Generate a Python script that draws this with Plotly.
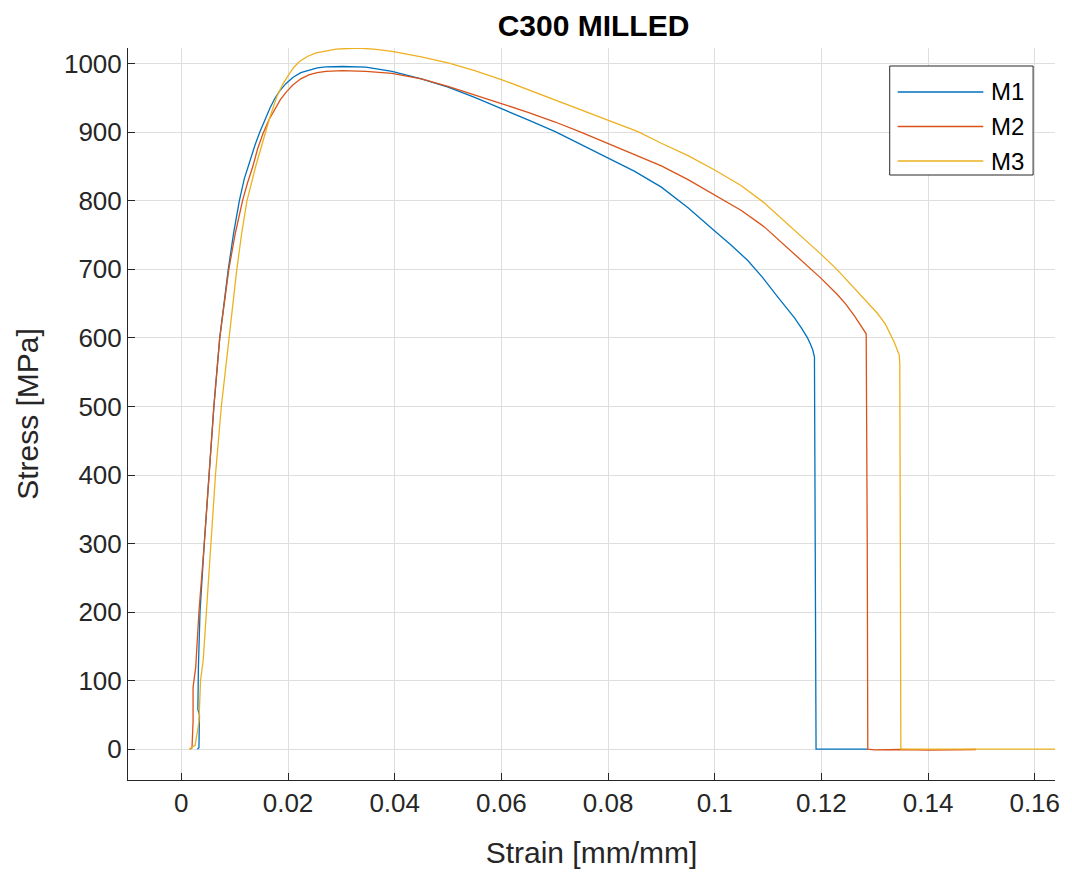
import plotly.graph_objects as go

# Tensile test curves, C300 milled specimens
series_names = ["M1", "M2", "M3"]
series_colors = ["#0072BD", "#D95319", "#EDB120"]

m1_strain = [0.0030, 0.0033, 0.0034, 0.0031, 0.0032, 0.0035, 0.0043, 0.0052, 0.0061, 0.0072,
             0.0080, 0.0088, 0.0098, 0.0109, 0.0118, 0.0128, 0.0138, 0.0147, 0.0156, 0.0166,
             0.0175, 0.0184, 0.0196, 0.0209, 0.0224, 0.0240, 0.0255, 0.0271, 0.0302, 0.0346,
             0.0395, 0.0450, 0.0500, 0.0550, 0.0600, 0.0650, 0.0701, 0.0750, 0.0800, 0.0850,
             0.0900, 0.0950, 0.1000, 0.1030, 0.1062, 0.1090, 0.1118, 0.1135, 0.1150, 0.1163,
             0.1174, 0.1180, 0.1184, 0.1187, 0.1188, 0.1189, 0.1190, 0.1287]
m1_stress = [0, 2, 50, 58, 120, 200, 300, 400, 500, 600,
             652, 700, 753, 801, 832, 858, 881, 900, 918, 935,
             949, 960, 971, 980, 987, 991, 994, 995.5, 996, 995,
             989, 978, 966, 951, 935, 918, 901, 882, 862, 843,
             820, 790, 756, 736, 713, 688, 660, 644, 629, 614,
             600, 590, 582, 572, 400, 150, 0, 0]

m2_strain = [0.0016, 0.0020, 0.0022, 0.0022, 0.0027, 0.0033, 0.0043, 0.0052, 0.0061, 0.0072,
             0.0089, 0.0101, 0.0115, 0.0124, 0.0134, 0.0143, 0.0153, 0.0164, 0.0175, 0.0186,
             0.0197, 0.0209, 0.0224, 0.0240, 0.0255, 0.0271, 0.0302, 0.0346, 0.0395, 0.0450,
             0.0500, 0.0550, 0.0600, 0.0650, 0.0701, 0.0750, 0.0800, 0.0850, 0.0900, 0.0950,
             0.1000, 0.1050, 0.1093, 0.1120, 0.1150, 0.1175, 0.1198, 0.1229, 0.1245, 0.1262,
             0.1272, 0.1280, 0.1284, 0.1286, 0.1287, 0.1300, 0.1350, 0.1400, 0.1450, 0.1490]
m2_stress = [0, 2, 40, 90, 120, 200, 300, 400, 500, 600,
             700, 752, 801, 826, 850, 876, 898, 918, 934, 948,
             959, 969, 978, 984, 987, 989, 990, 989, 986, 978,
             967, 955, 942, 929, 915, 900, 884, 867, 851, 831,
             809, 786, 762, 743, 722, 704, 688, 664, 650, 632,
             620, 611, 606, 300, 0, -1, -0.5, -1.5, -1, -0.5]

m3_strain = [0.0015, 0.0020, 0.0026, 0.0033, 0.0036, 0.0041, 0.0047, 0.0056, 0.0064, 0.0075,
             0.0089, 0.0104, 0.0113, 0.0123, 0.0140, 0.0155, 0.0166, 0.0179, 0.0190, 0.0202,
             0.0211, 0.0221, 0.0237, 0.0253, 0.0270, 0.0290, 0.0333, 0.0365, 0.0395, 0.0450,
             0.0502, 0.0550, 0.0600, 0.0650, 0.0701, 0.0750, 0.0800, 0.0856, 0.0900, 0.0950,
             0.1000, 0.1050, 0.1093, 0.1150, 0.1198, 0.1229, 0.1270, 0.1305, 0.1320, 0.1337,
             0.1346, 0.1347, 0.1348, 0.1349, 0.1638]
m3_stress = [0, 3, 6, 40, 100, 130, 200, 300, 400, 500,
             600, 700, 752, 800, 852, 893, 922, 952, 970, 985,
             995, 1003, 1011, 1016, 1019, 1021.5, 1023, 1021, 1018, 1010,
             1001, 990, 977, 962, 947, 933, 918, 901, 884, 866,
             845, 822, 797, 757, 723, 700, 665, 636, 620, 593,
             575, 561, 300, 0, 0]

x_tickvals = [0, 0.02, 0.04, 0.06, 0.08, 0.1, 0.12, 0.14, 0.16]
x_ticktext = ["0", "0.02", "0.04", "0.06", "0.08", "0.1", "0.12", "0.14", "0.16"]
y_tickvals = [0, 100, 200, 300, 400, 500, 600, 700, 800, 900, 1000]
y_ticktext = [str(v) for v in y_tickvals]

W, H = 1072, 875
ML, MR, MT, MB = 128, 13, 48, 95
FONT = "Liberation Sans, Arial, Helvetica, sans-serif"
INK = "#262626"


def px_x(px):
    return (px - ML) / (W - ML - MR)


def px_y(py):
    return 1 - (py - MT) / (H - MT - MB)


fig = go.Figure()
for name, color, xs, ys in zip(series_names, series_colors,
                               [m1_strain, m2_strain, m3_strain],
                               [m1_stress, m2_stress, m3_stress]):
    fig.add_trace(go.Scatter(x=xs, y=ys, mode="lines", name=name,
                             line=dict(color=color, width=1.3), showlegend=False))

# legend box drawn in the upper-right corner of the axes
shapes = [dict(type="rect", xref="paper", yref="paper",
               x0=px_x(893), x1=px_x(1037), y0=px_y(175), y1=px_y(66),
               line=dict(color=INK, width=1), fillcolor="white", layer="above")]
annotations = []
for i, (name, color) in enumerate(zip(series_names, series_colors)):
    row_y = px_y(92 + i * 34.5)
    shapes.append(dict(type="line", xref="paper", yref="paper",
                       x0=px_x(901), x1=px_x(987), y0=row_y, y1=row_y,
                       line=dict(color=color, width=1.3), layer="above"))
    annotations.append(dict(text=name, xref="paper", yref="paper",
                            x=px_x(993), y=row_y, xanchor="left", yanchor="middle",
                            showarrow=False, font=dict(family=FONT, size=24, color="#000000")))

axis_common = dict(ticks="inside", ticklen=7, tickwidth=1, tickcolor=INK,
                   showline=True, linecolor=INK, linewidth=1, mirror=False,
                   showgrid=True, gridcolor="#DEDEDE", gridwidth=1, zeroline=False,
                   tickfont=dict(family=FONT, size=26, color=INK))

fig.update_layout(
    width=W, height=H,
    margin=dict(l=ML, r=MR, t=MT, b=MB),
    paper_bgcolor="white", plot_bgcolor="white",
    title=dict(text="<b>C300 MILLED</b>", x=0.5 + (ML - MR) / 2 / W, xanchor="center",
               y=1 - 25 / H, yanchor="middle", yref="container",
               font=dict(family=FONT, size=30, color="#000000")),
    xaxis=dict(range=[-0.01, 0.1638], tickvals=x_tickvals, ticktext=x_ticktext,
               title=dict(text="Strain [mm/mm]", font=dict(family=FONT, size=30, color=INK),
                          standoff=24),
               **axis_common),
    yaxis=dict(range=[-45, 1023], tickvals=y_tickvals, ticktext=y_ticktext,
               title=dict(text="Stress [MPa]", font=dict(family=FONT, size=30, color=INK),
                          standoff=16),
               **axis_common),
    shapes=shapes,
    annotations=annotations,
)

fig.write_html("out.html")
